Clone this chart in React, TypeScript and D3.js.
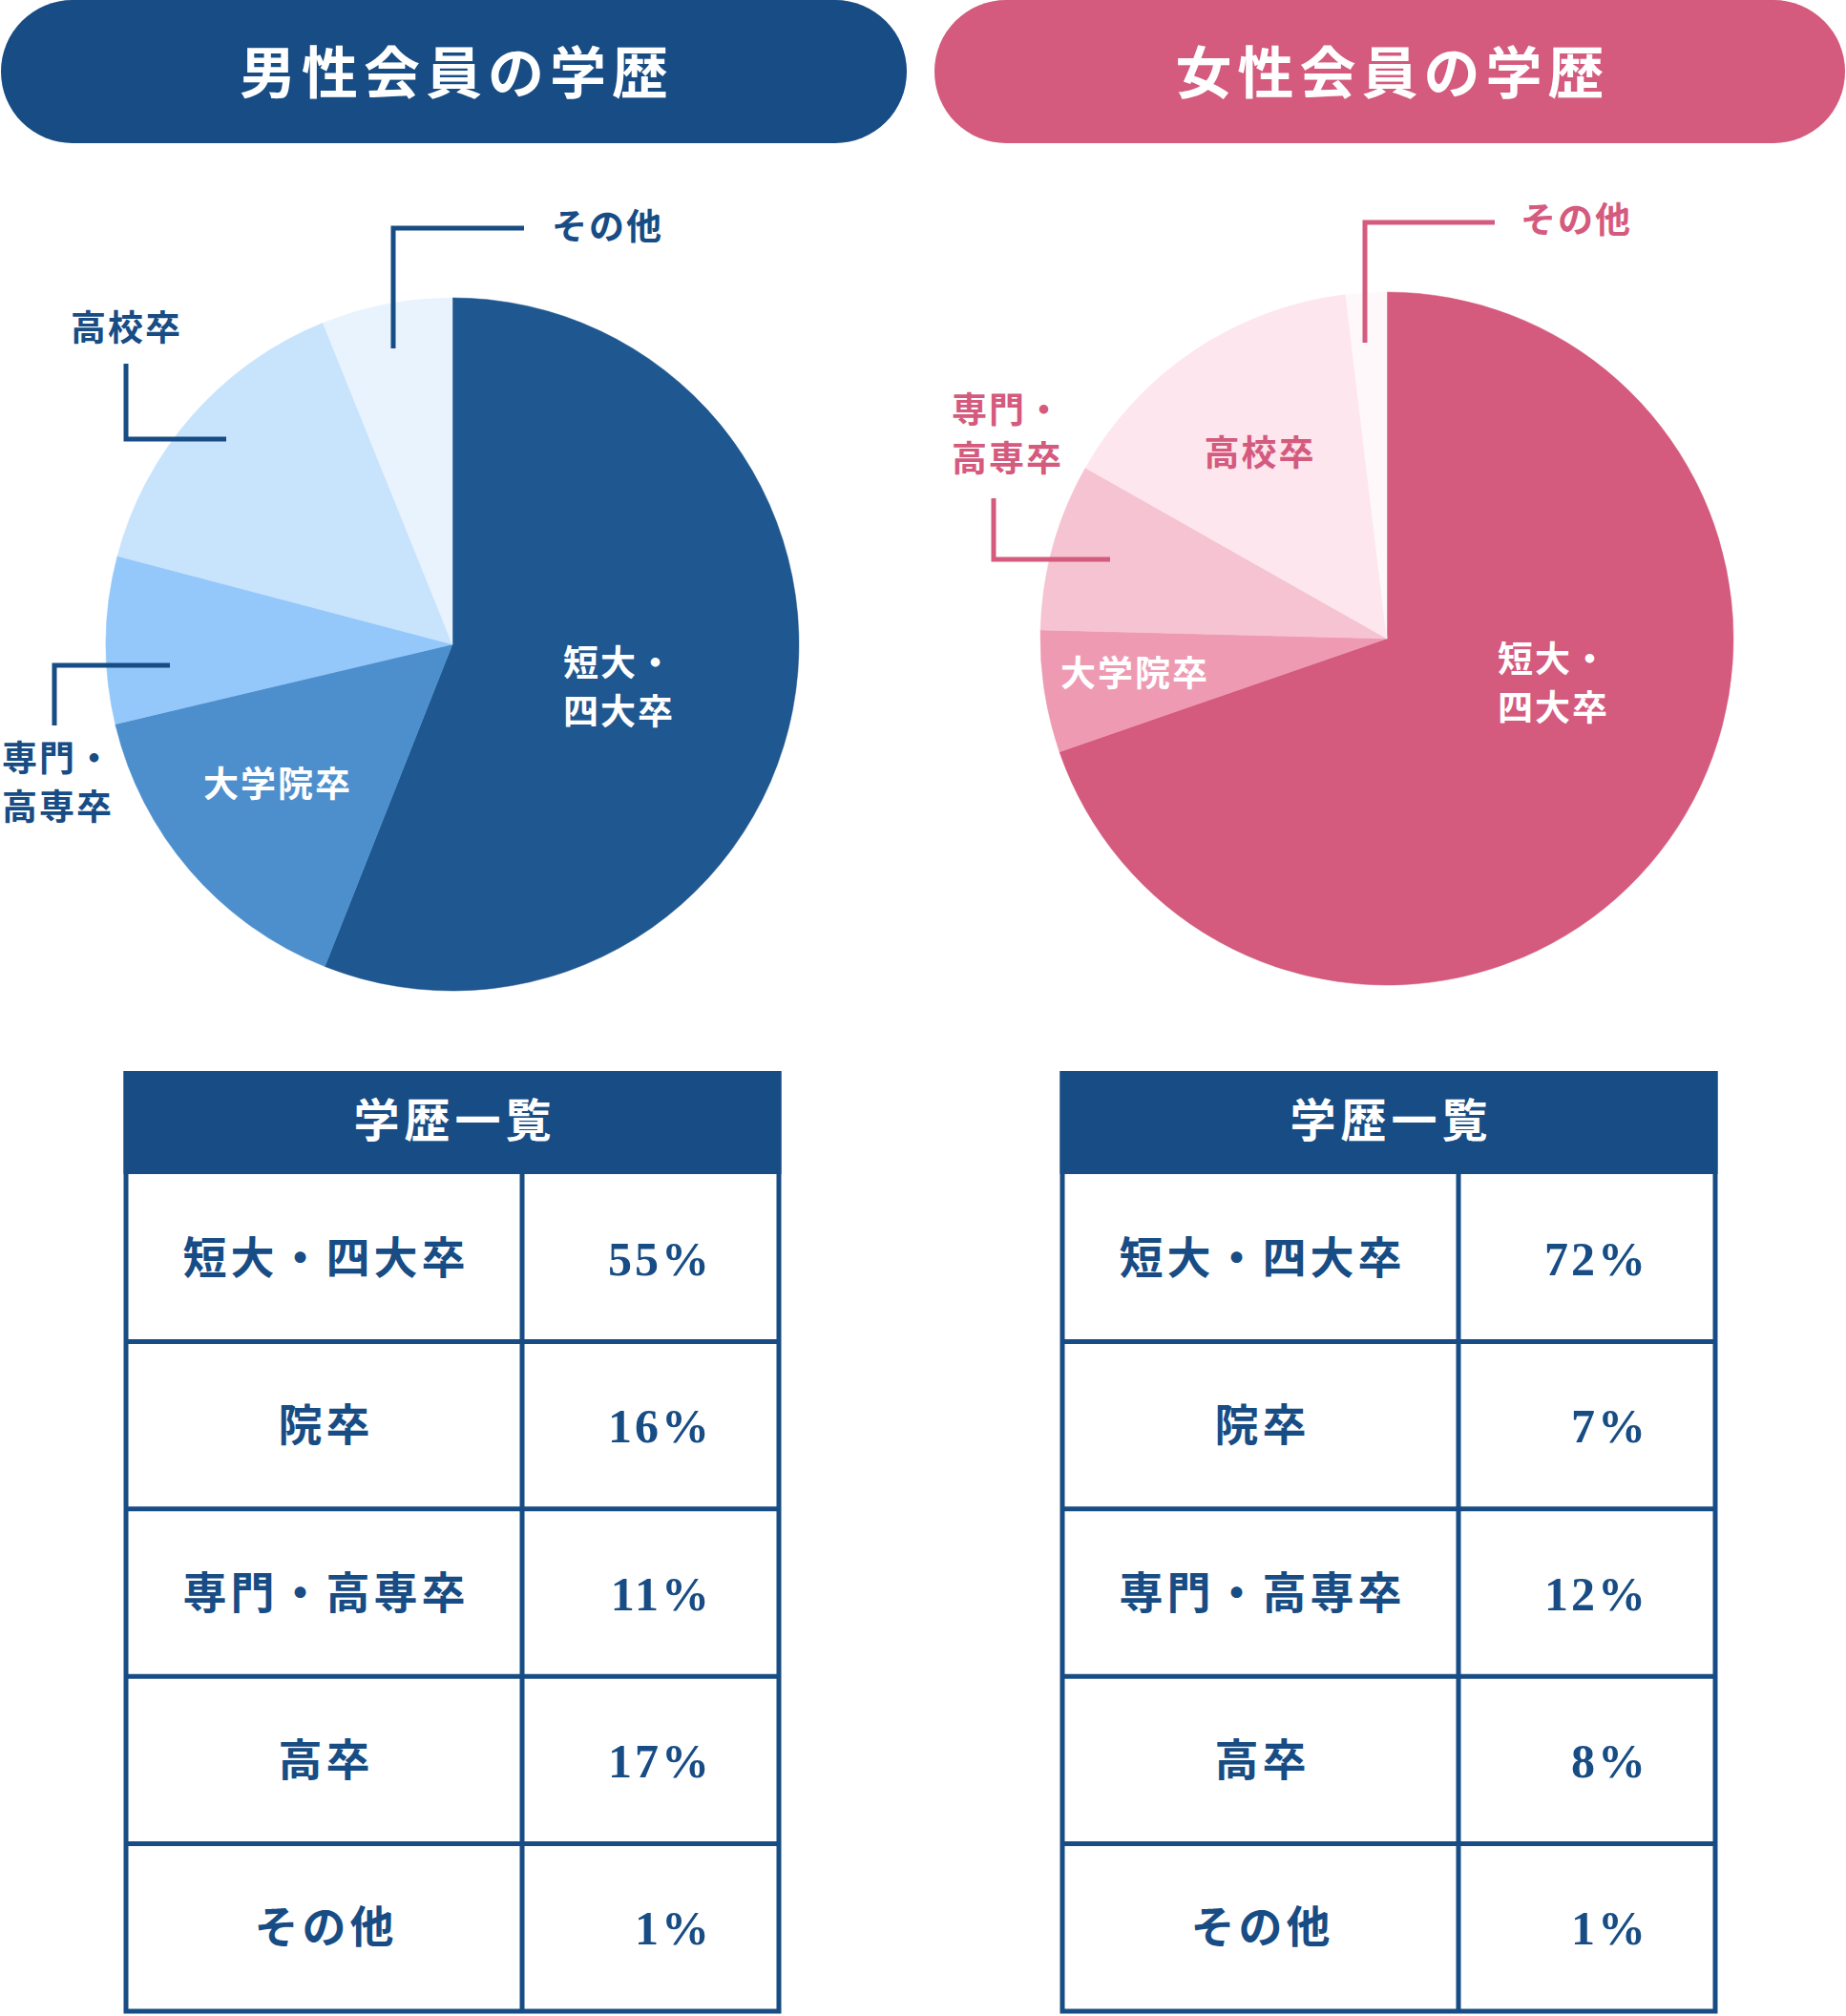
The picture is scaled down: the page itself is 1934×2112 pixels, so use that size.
import React from "react";
import * as d3 from "d3";

// ---- data ----
const pieCategories = ["短大・四大卒", "大学院卒", "専門・高専卒", "高校卒", "その他"];
const malePieShares = [56, 15.3, 7.8, 14.8, 6.1];
const femalePieShares = [69.7, 5.7, 7.8, 14.9, 1.9];
const tableRowLabels = ["短大・四大卒", "院卒", "専門・高専卒", "高卒", "その他"];
const malePercents = [55, 16, 11, 17, 1];
const femalePercents = [72, 7, 12, 8, 1];
const maleColors = ["#1f5790", "#4d8fcd", "#94c8fa", "#c8e3fc", "#e8f3fe"];
const femaleColors = ["#d45a7e", "#ee9ab3", "#f5c3d1", "#fde6ee", "#fff8fa"];
const panelTitles = ["男性会員の学歴", "女性会員の学歴"];
const tableTitle = "学歴一覧";

const BLUE = "#174c84";
const PINK = "#d45a7e";
const JP = "'Noto Sans CJK JP', 'Noto Sans', sans-serif";
const NUM = "'Liberation Serif', 'DejaVu Serif', serif";
const JP_SHIFT = -4;

type Label = {
  lines: string[];
  dx: number;
  dy: number;
  anchor: "start" | "middle";
  color: string;
  leader?: [number, number][];
};

const maleLabels: Label[] = [
  { lines: ["短大・", "四大卒"], dx: 116, dy: 21, anchor: "start", color: "#fff" },
  { lines: ["大学院卒"], dx: -184, dy: 148, anchor: "middle", color: "#fff" },
  {
    lines: ["専門・", "高専卒"], dx: -472, dy: 121, anchor: "start", color: BLUE,
    leader: [[-296, 22], [-417, 22], [-417, 85]],
  },
  {
    lines: ["高校卒"], dx: -400, dy: -330, anchor: "start", color: BLUE,
    leader: [[-342, -294], [-342, -215], [-237, -215]],
  },
  {
    lines: ["その他"], dx: 104, dy: -436, anchor: "start", color: BLUE,
    leader: [[75, -436], [-62, -436], [-62, -310]],
  },
];

const femaleLabels: Label[] = [
  { lines: ["短大・", "四大卒"], dx: 116, dy: 23, anchor: "start", color: "#fff" },
  { lines: ["大学院卒"], dx: -265, dy: 38, anchor: "middle", color: "#fff" },
  {
    lines: ["専門・", "高専卒"], dx: -456, dy: -238, anchor: "start", color: PINK,
    leader: [[-412, -147], [-412, -83], [-290, -83]],
  },
  { lines: ["高校卒"], dx: -134, dy: -193, anchor: "middle", color: PINK },
  {
    lines: ["その他"], dx: 140, dy: -437, anchor: "start", color: PINK,
    leader: [[113, -436], [-23, -436], [-23, -310]],
  },
];

const RADIUS = 363;

function Pie({ cx, cy, shares, colors, labels, lineColor }: any) {
  const pie = d3.pie<number>().sort(null).value((d) => d).startAngle(0).endAngle(2 * Math.PI);
  const arc = d3.arc<d3.PieArcDatum<number>>().innerRadius(0).outerRadius(RADIUS);
  const arcs = pie(shares);
  const line = d3.line();
  return (
    <g transform={`translate(${cx},${cy})`}>
      {arcs.map((a, i) => (
        <path key={pieCategories[i]} d={arc(a) || ""} fill={colors[i]} stroke={colors[i]} strokeWidth={0.5} />
      ))}
      {labels.map((l: Label, i: number) => (
        <g key={i}>
          {l.leader && (
            <path d={line(l.leader) || ""} fill="none" stroke={lineColor} strokeWidth={5} />
          )}
          {l.lines.map((t, j) => (
            <text
              key={j}
              x={l.dx + (l.anchor === "middle" ? 1 : 0)}
              y={l.dy + j * 51 + JP_SHIFT}
              textAnchor={l.anchor}
              dominantBaseline="central"
              fill={l.color}
              fontFamily={JP}
              fontWeight={700}
              fontSize={37}
              letterSpacing={2}
            >
              {t}
            </text>
          ))}
        </g>
      ))}
    </g>
  );
}

function Table({ x, percents }: any) {
  const width = 684;
  const col1 = 415;
  const top = 1122;
  const headerBottom = 1230;
  const bottom = 2107;
  const y = d3.scaleLinear().domain([0, tableRowLabels.length]).range([headerBottom, bottom]);
  const rows = d3.range(tableRowLabels.length);
  return (
    <g>
      <rect x={x - 2.5} y={top} width={width + 5} height={headerBottom - top} fill={BLUE} />
      <text
        x={x + width / 2 + 2.5}
        y={(top + headerBottom) / 2 - 2 + JP_SHIFT}
        textAnchor="middle"
        dominantBaseline="central"
        fill="#fff"
        fontFamily={JP}
        fontWeight={700}
        fontSize={48}
        letterSpacing={5}
      >
        {tableTitle}
      </text>
      {rows.map((i) => (
        <g key={i}>
          <text
            x={x + col1 / 2 + 2}
            y={(y(i) + y(i + 1)) / 2 + JP_SHIFT}
            textAnchor="middle"
            dominantBaseline="central"
            fill={BLUE}
            fontFamily={JP}
            fontWeight={700}
            fontSize={46}
            letterSpacing={4}
          >
            {tableRowLabels[i]}
          </text>
          <text
            x={x + width - 70}
            y={(y(i) + y(i + 1)) / 2 + 1}
            textAnchor="end"
            dominantBaseline="central"
            fill={BLUE}
            fontFamily={NUM}
            fontWeight={700}
            fontSize={50}
            letterSpacing={3}
          >
            {`${percents[i]}%`}
          </text>
        </g>
      ))}
      {rows.slice(1).map((i) => (
        <line key={i} x1={x} x2={x + width} y1={y(i)} y2={y(i)} stroke={BLUE} strokeWidth={5} />
      ))}
      <line x1={x + col1} x2={x + col1} y1={headerBottom} y2={bottom} stroke={BLUE} strokeWidth={5} />
      <path
        d={`M${x},${top} V${bottom} H${x + width} V${top}`}
        fill="none"
        stroke={BLUE}
        strokeWidth={5}
      />
    </g>
  );
}

function TitlePill({ x, w, fill, title }: any) {
  return (
    <g>
      <rect x={x} y={0} width={w} height={150} rx={75} ry={75} fill={fill} />
      <text
        x={x + w / 2 + 3}
        y={76 + JP_SHIFT}
        textAnchor="middle"
        dominantBaseline="central"
        fill="#fff"
        fontFamily={JP}
        fontWeight={700}
        fontSize={59}
        letterSpacing={6}
      >
        {title}
      </text>
    </g>
  );
}

export default function App() {
  return (
    <svg
      width={1934}
      height={2112}
      viewBox="0 0 1934 2112"
      style={{ position: "absolute", left: 0, top: 0, background: "#fff" }}
    >
      <rect x={0} y={0} width={1934} height={2112} fill="#fff" />
      <TitlePill x={1} w={949} fill={BLUE} title={panelTitles[0]} />
      <TitlePill x={979} w={954} fill={PINK} title={panelTitles[1]} />
      <Pie cx={474} cy={675} shares={malePieShares} colors={maleColors} labels={maleLabels} lineColor={BLUE} />
      <Pie cx={1453} cy={669} shares={femalePieShares} colors={femaleColors} labels={femaleLabels} lineColor={PINK} />
      <Table x={132} percents={malePercents} />
      <Table x={1113} percents={femalePercents} />
    </svg>
  );
}
